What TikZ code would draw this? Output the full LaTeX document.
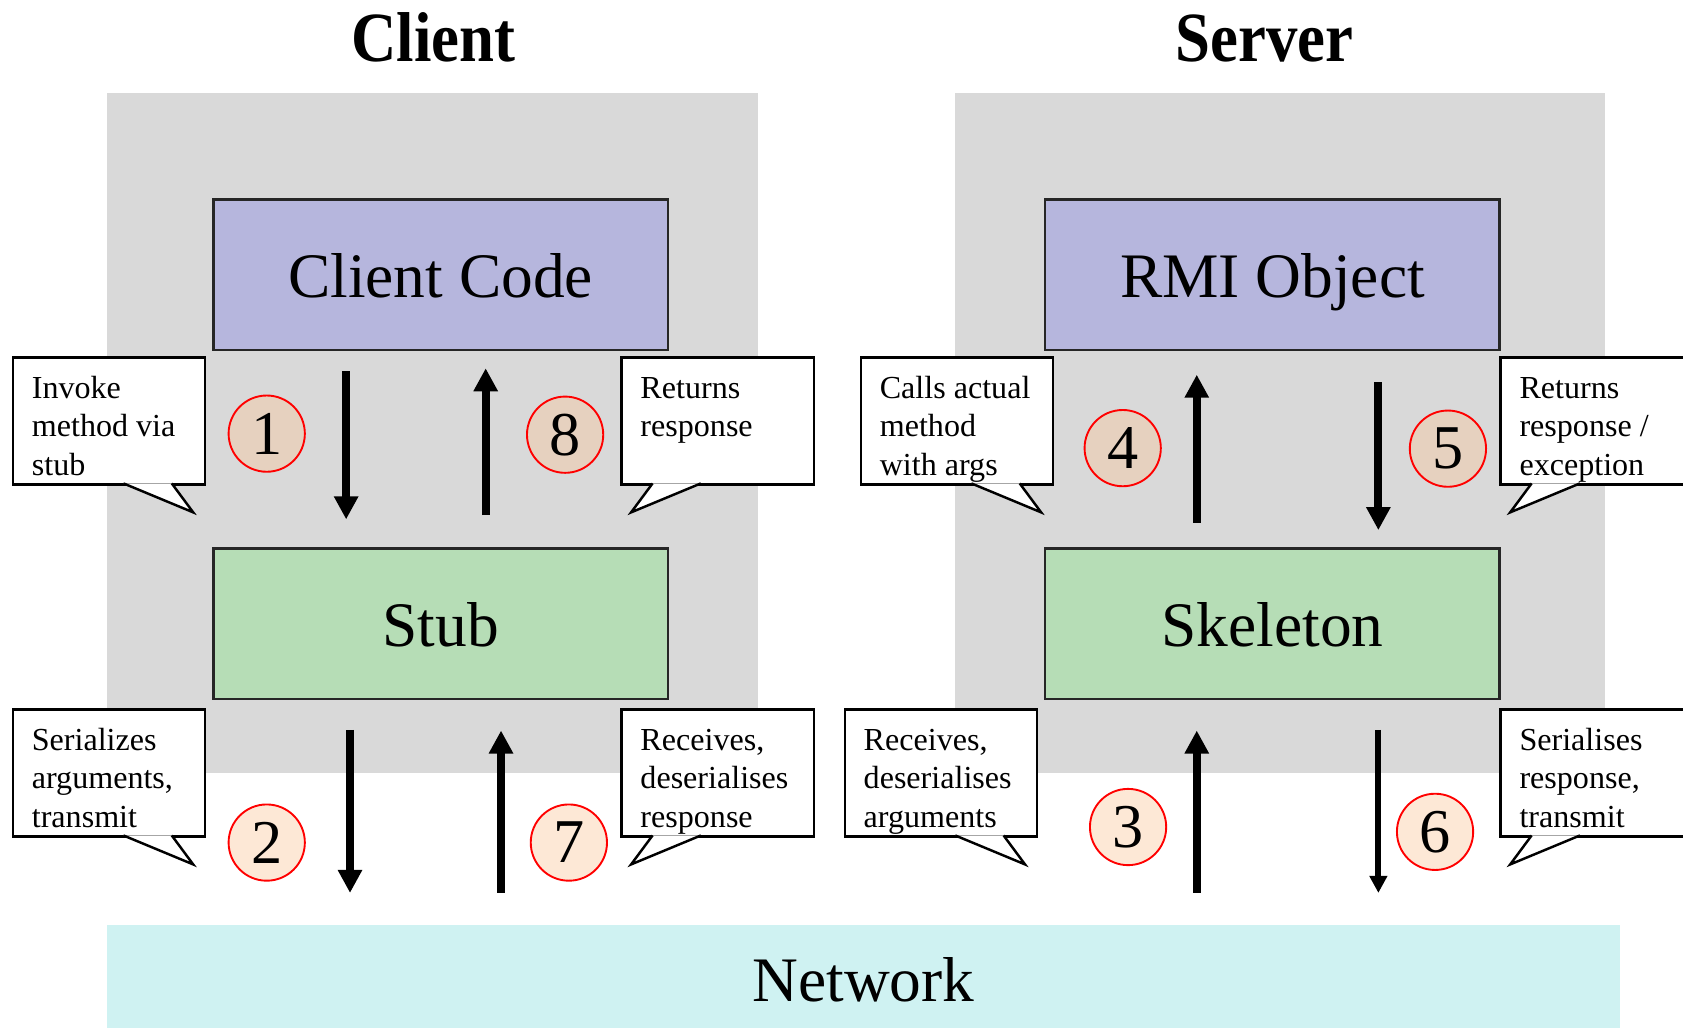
\documentclass[tikz,border=0pt]{standalone}
\usepackage{fontspec}
\setmainfont{Liberation Serif}
\newfontfamily\headfont[FakeStretch=0.89]{Liberation Serif}
\usepackage{tikz}
\usetikzlibrary{positioning,calc,arrows.meta}
\definecolor{panelgray}{HTML}{D9D9D9}
\definecolor{codeblue}{HTML}{B6B6DD}
\definecolor{stubgreen}{HTML}{B6DDB6}
\definecolor{netcyan}{HTML}{CFF2F2}
\definecolor{badgefill}{RGB}{250,197,152}

\begin{document}
\begin{tikzpicture}[x=0.01cm, y=-0.01cm,
        block/.style = {draw=black!85, line width=0.6pt, minimum width=4.23cm, minimum height=1.4cm, inner sep=0, text height=12.1pt, text depth=0pt, font=\fontsize{16.8}{20}\selectfont},
        title/.style = {inner sep=0, font=\headfont\bfseries\fontsize{18.7}{22}\selectfont},
        notebox/.style = {draw, fill=white, line width=0.65pt, minimum width=1.79cm, minimum height=1.18cm, inner sep=0, anchor=north west},
        notetext/.style = {inner sep=0, align=left, font=\fontsize{8.5}{10.2}\selectfont},
        notetail/.style = {draw, fill=white, line width=0.65pt},
        badge/.style = {circle, draw=red, line width=0.5pt, fill=badgefill, fill opacity=0.4, text opacity=1, minimum size=0.71cm, inner sep=0, font=\fontsize{16.5}{18}\selectfont},
        flow/.style = {line width=2.1pt, -{Triangle[width=6.1pt,length=6.1pt]}},
        thinflow/.style = {line width=1.6pt, -{Triangle[width=4.5pt,length=4.5pt]}}]
            \clip (0,0) rectangle (1568,957);
            \fill[panelgray] (100,87) rectangle (706,720);
            \fill[panelgray] (890,87) rectangle (1495,720);
            \node[title, anchor=base] (client) at (404,57) {Client};
            \node[title, anchor=base] (server) at (1178,57) {Server};
            \node[block, fill=codeblue] (code) at (410.5,256) {Client Code};
            \node[block, fill=stubgreen] (stub) at (410.5,581) {Stub};
            \node[block, fill=codeblue] (rmi) at (1185.5,256) {RMI Object};
            \node[block, fill=stubgreen] (skel) at (1185.5,581) {Skeleton};
            \node[block, draw=none, fill=netcyan, minimum width=14.09cm, minimum height=1cm] (net) at (804.5,912) {Network};
            \node[notebox] (n1) at (11,332) {};
            \node[notetext, below right=0.13cm and 0.18cm of n1.north west] (t1) {\strut Invoke\\method via\\stub};
            \filldraw[notetail] ($(n1.south west)+(104,-2)$) -- ($(n1.south west)+(169,25)$) -- ($(n1.south west)+(149,-2)$);
            \node[notebox] (n8) at (578,332) {};
            \node[notetext, below right=0.13cm and 0.18cm of n8.north west] (t8) {\strut Returns\\response};
            \filldraw[notetail] ($(n8.south west)+(75,-2)$) -- ($(n8.south west)+(10,25)$) -- ($(n8.south west)+(30,-2)$);
            \node[notebox] (n4) at (801,332) {};
            \node[notetext, below right=0.13cm and 0.18cm of n4.north west] (t4) {\strut Calls actual\\method\\with args};
            \filldraw[notetail] ($(n4.south west)+(104,-2)$) -- ($(n4.south west)+(169,25)$) -- ($(n4.south west)+(149,-2)$);
            \node[notebox] (n5) at (1397,332) {};
            \node[notetext, below right=0.13cm and 0.18cm of n5.north west] (t5) {\strut Returns\\response /\\exception};
            \filldraw[notetail] ($(n5.south west)+(75,-2)$) -- ($(n5.south west)+(10,25)$) -- ($(n5.south west)+(30,-2)$);
            \node[notebox] (n2) at (11,660) {};
            \node[notetext, below right=0.13cm and 0.18cm of n2.north west] (t2) {\strut Serializes\\arguments,\\transmit};
            \filldraw[notetail] ($(n2.south west)+(104,-2)$) -- ($(n2.south west)+(169,25)$) -- ($(n2.south west)+(149,-2)$);
            \node[notebox] (n7) at (578,660) {};
            \node[notetext, below right=0.13cm and 0.18cm of n7.north west] (t7) {\strut Receives,\\deserialises\\response};
            \filldraw[notetail] ($(n7.south west)+(75,-2)$) -- ($(n7.south west)+(10,25)$) -- ($(n7.south west)+(30,-2)$);
            \node[notebox] (n3) at (786,660) {};
            \node[notetext, below right=0.13cm and 0.18cm of n3.north west] (t3) {\strut Receives,\\deserialises\\arguments};
            \filldraw[notetail] ($(n3.south west)+(104,-2)$) -- ($(n3.south west)+(169,25)$) -- ($(n3.south west)+(149,-2)$);
            \node[notebox] (n6) at (1397,660) {};
            \node[notetext, below right=0.13cm and 0.18cm of n6.north west] (t6) {\strut Serialises\\response,\\transmit};
            \filldraw[notetail] ($(n6.south west)+(75,-2)$) -- ($(n6.south west)+(10,25)$) -- ($(n6.south west)+(30,-2)$);
            \draw[flow] ($(code.south)+(-88,19)$) -- ($(stub.north)+(-88,-26)$);
            \draw[flow] ($(stub.north)+(42,-30)$) -- ($(code.south)+(42,16)$);
            \draw[flow] ($(skel.north)+(-70.5,-23)$) -- ($(rmi.south)+(-70.5,22)$);
            \draw[flow] ($(rmi.south)+(98.7,29)$) -- ($(skel.north)+(98.7,-16)$);
            \draw[flow] ($(stub.south)+(-84.4,28)$) -- ($(stub.south |- net.north)+(-84.4,-29)$);
            \draw[flow] ($(stub.south |- net.north)+(56.3,-29)$) -- ($(stub.south)+(56.3,28.5)$);
            \draw[flow] ($(skel.south |- net.north)+(-70.5,-29)$) -- ($(skel.south)+(-70.5,28.5)$);
            \draw[thinflow] ($(skel.south)+(98.7,28)$) -- ($(skel.south |- net.north)+(98.7,-29)$);
            \node[badge] (b1) at (248.5,404) {1};
            \node[badge] (b8) at (526.5,405) {8};
            \node[badge] (b4) at (1046,417.5) {4};
            \node[badge] (b5) at (1349,418) {5};
            \node[badge] (b2) at (248.5,785) {2};
            \node[badge] (b7) at (530,785) {7};
            \node[badge] (b3) at (1051,770.5) {3};
            \node[badge] (b6) at (1337,775) {6};
        \end{tikzpicture}
\end{document}
